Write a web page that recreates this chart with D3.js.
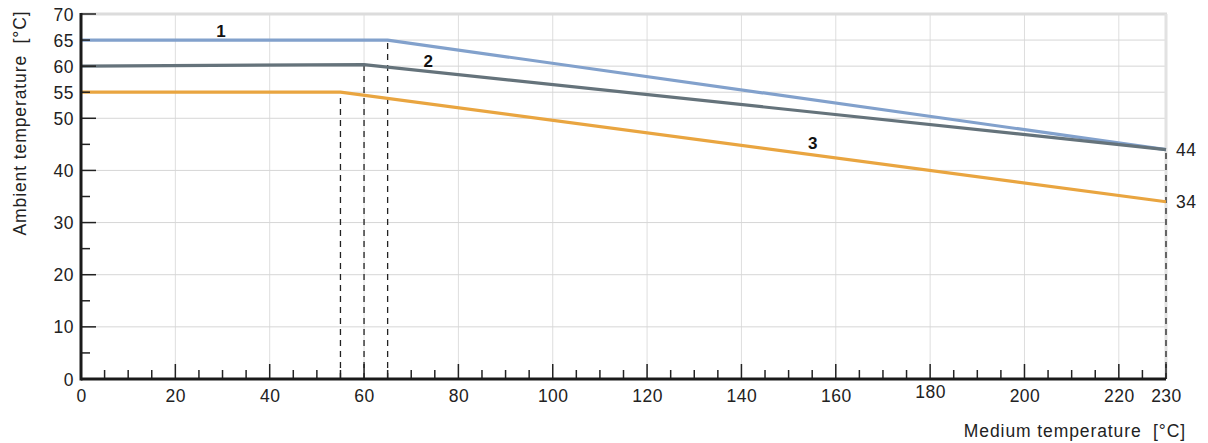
<!DOCTYPE html>
<html>
<head>
<meta charset="utf-8">
<script src="https://cdnjs.cloudflare.com/ajax/libs/d3/7.8.5/d3.min.js"></script>
<style>
  body { margin: 0; background: #fff; }
  text { font-family: "Liberation Sans", Arial, sans-serif; fill: #222; white-space: pre; }
</style>
</head>
<body>
<div id="chart"></div>
<script>
// derating curves: medium temp -> max ambient temp
var curve1 = [[0, 65], [65, 65], [230, 44]];
var curve2 = [[0, 60], [60, 60.3], [230, 44]];
var curve3 = [[0, 55], [55, 55], [230, 34]];
var curveNames = ["1", "2", "3"];
var curveColors = ["#82a1cc", "#65737b", "#e9a540"];
// where each label sits (x value, y value)
var labelPos = [[29.7, 65.6], [73.6, 59.8], [155.1, 44.1]];
var endLabels = [44, 34];
var dropLines = [[55, 55], [60, 60.3], [65, 65], [230, 44]];

var xTickLabels = [0, 20, 40, 60, 80, 100, 120, 140, 160, 180, 200, 220, 230];
var yTickLabels = [0, 10, 20, 30, 40, 50, 55, 60, 65, 70];

var W = 1208, H = 443;
var m = {left: 81, top: 14, right: 1166, bottom: 379};

var svg = d3.select("#chart").append("svg")
    .attr("width", W)
    .attr("height", H);

var x = d3.scaleLinear().domain([0, 230]).range([m.left, m.right]);
var y = d3.scaleLinear().domain([0, 70]).range([m.bottom, m.top]);

// grid
var gridX = d3.range(20, 230, 20);
svg.selectAll(".gx").data(gridX).enter().append("line")
    .attr("x1", function(d){return x(d);}).attr("x2", function(d){return x(d);})
    .attr("y1", y(0)).attr("y2", y(70))
    .style("stroke", "#dedede").style("stroke-width", "1px");
var gridY = d3.range(10, 70, 10).concat([55, 65]);
svg.selectAll(".gy").data(gridY).enter().append("line")
    .attr("x1", x(0)).attr("x2", x(230))
    .attr("y1", function(d){return y(d);}).attr("y2", function(d){return y(d);})
    .style("stroke", "#d6d6d6").style("stroke-width", "1px");
// top + right frame
svg.append("line").attr("x1", x(0)).attr("x2", x(230) + 1).attr("y1", y(70)).attr("y2", y(70))
    .style("stroke", "#dcdcdc").style("stroke-width", "3px");
svg.append("line").attr("x1", x(230)).attr("x2", x(230)).attr("y1", y(70)).attr("y2", y(0))
    .style("stroke", "#e2e2e2").style("stroke-width", "3px");

// dashed drop lines
svg.selectAll(".drop").data(dropLines).enter().append("line")
    .attr("x1", function(d){return x(d[0]);}).attr("x2", function(d){return x(d[0]);})
    .attr("y1", y(0)).attr("y2", function(d){return y(d[1]);})
    .style("stroke", "#222").style("stroke-width", "1.3px")
    .style("stroke-dasharray", "6,5");

// curves
var line = d3.line().x(function(d){return x(d[0]);}).y(function(d){return y(d[1]);});
[curve1, curve2, curve3].forEach(function(c, i){
    svg.append("path")
        .datum(c)
        .attr("d", line)
        .style("fill", "none")
        .style("stroke", curveColors[i])
        .style("stroke-width", "3.2px");
});

// x axis ticks (inside, upward)
var xMinor = d3.range(0, 231, 5);
svg.selectAll(".xt").data(xMinor).enter().append("line")
    .attr("x1", function(d){return x(d);}).attr("x2", function(d){return x(d);})
    .attr("y1", y(0))
    .attr("y2", function(d){return (d % 20 == 0 || d == 230) ? y(0) - 15 : y(0) - 9;})
    .style("stroke", "#222").style("stroke-width", "1.5px");

// y axis ticks (inside, to the right)
var yMinor = d3.range(0, 71, 5);
svg.selectAll(".yt").data(yMinor).enter().append("line")
    .attr("x1", x(0))
    .attr("x2", function(d){return (d % 10 == 0) ? x(0) + 15 : x(0) + 9;})
    .attr("y1", function(d){return y(d);}).attr("y2", function(d){return y(d);})
    .style("stroke", "#222").style("stroke-width", "1.5px");

// axis lines
svg.append("line").attr("x1", x(0)).attr("x2", x(230)).attr("y1", y(0)).attr("y2", y(0))
    .style("stroke", "#1a1a1a").style("stroke-width", "3px");
svg.append("line").attr("x1", x(0)).attr("x2", x(0)).attr("y1", y(0) + 1.5).attr("y2", y(70) - 1)
    .style("stroke", "#1a1a1a").style("stroke-width", "3px");

// tick labels
svg.selectAll(".xl").data(xTickLabels).enter().append("text")
    .attr("x", function(d){return x(d) + 0.5;})
    .attr("y", function(d){return d == 180 ? 398 : 402;})
    .attr("text-anchor", "middle")
    .style("font-size", "17.5px")
    .style("letter-spacing", "0.5px")
    .text(function(d){return d;});
svg.selectAll(".yl").data(yTickLabels).enter().append("text")
    .attr("x", x(0) - 7)
    .attr("y", function(d){return y(d) + 6.5;})
    .attr("text-anchor", "end")
    .style("font-size", "17.5px")
    .style("letter-spacing", "0.5px")
    .text(function(d){return d;});

// curve labels
svg.selectAll(".cl").data(labelPos).enter().append("text")
    .attr("x", function(d){return x(d[0]);})
    .attr("y", function(d){return y(d[1]);})
    .attr("text-anchor", "middle")
    .style("font-size", "17px")
    .style("font-weight", "bold")
    .style("fill", "#111")
    .text(function(d, i){return curveNames[i];});

svg.selectAll(".el").data(endLabels).enter().append("text")
    .attr("x", x(230) + 10)
    .attr("y", function(d){return y(d) + 6;})
    .style("font-size", "17.5px")
    .style("letter-spacing", "0.5px")
    .text(function(d){return d;});

// axis titles
svg.append("text")
    .attr("transform", "translate(26,123) rotate(-90)")
    .attr("text-anchor", "middle")
    .style("font-size", "17.5px")
    .style("letter-spacing", "0.9px")
    .text("Ambient temperature  [°C]");
svg.append("text")
    .attr("x", 1186).attr("y", 437)
    .attr("text-anchor", "end")
    .style("font-size", "17.5px")
    .style("letter-spacing", "0.9px")
    .text("Medium temperature  [°C]");
</script>
</body>
</html>
